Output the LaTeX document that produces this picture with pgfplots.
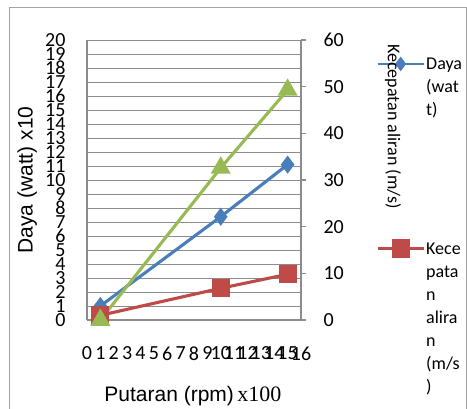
\documentclass[border=0pt]{standalone}
\usepackage{pgfplots}
\pgfplotsset{compat=1.18}
\usepackage{fontspec}
\setmainfont{Liberation Sans}
\newfontfamily\seriffont{Liberation Serif}
\newfontfamily\calfont{Carlito}
\definecolor{cblue}{HTML}{4A7EBB}
\definecolor{cred}{HTML}{BE4B48}
\definecolor{cgreen}{HTML}{98B954}
\definecolor{cgrid}{HTML}{8C8C8C}
\newcommand{\legtab}[1]{\begin{tabular}[t]{@{}l@{}}#1\end{tabular}}
\begin{document}
\begin{tikzpicture}[x=1pt,y=1pt]
\useasboundingbox (0,0) rectangle (467,409);
\draw[cgrid!80, line width=1pt] (9,-20) -- (9,401) -- (466,401) -- (466,-20);
\pgfplotsset{
  common/.style={
    scale only axis, width=214pt, height=280pt,
    at={(87pt,89pt)}, anchor=south west,
    xmin=0, xmax=16,
    axis line style={cgrid, line width=1.2pt},
    /pgf/number format/assume math mode=true,
    tick label style={font=\calfont\fontsize{20}{22}\selectfont},
  },
}
\begin{axis}[common,
  ymin=0, ymax=20,
  axis y line*=left, axis x line*=bottom,
  xtick={0,...,16}, ytick={0,...,20},
  major tick length=0pt,
  ymajorgrids, grid style={cgrid, line width=0.9pt},
  xticklabel style={anchor=north, yshift=-23pt},
  yticklabel style={anchor=east, xshift=-18pt},
  xlabel={Putaran (rpm)\,{\seriffont\fontsize{22}{24}\selectfont x100}},
  xlabel style={font=\fontsize{21}{24}\selectfont, at={(axis description cs:0.495,-0.271)}, anchor=center},
  ylabel={Daya (watt) x10},
  ylabel style={font=\fontsize{21}{24}\selectfont, at={(axis description cs:-0.28,0.5)}, anchor=center},
]
\addplot[cblue, line width=3.1pt, mark=diamond*, mark size=6.5pt, mark options={solid}]
  coordinates {(1,1) (10,7.38) (15,11.1)};
\end{axis}
\begin{axis}[common,
  ymin=0, ymax=60,
  axis y line*=right, axis x line=none,
  ytick={0,10,...,60},
  tick align=outside, major tick length=5pt,
  ytick style={cgrid, line width=1.2pt},
  yticklabel style={anchor=west, xshift=14pt},
  legend style={draw=none, fill=none, at={(axis description cs:1.336,0.962)}, anchor=north west,
    font=\calfont\fontsize{18}{23}\selectfont, row sep=165pt,
    nodes={anchor=base west, inner sep=1pt}},
  legend cell align=left,
  legend image code/.code={\draw[mark repeat=2, mark phase=2, #1] plot coordinates {(0pt,6pt) (23pt,6pt) (46pt,6pt)};},
]
\addlegendimage{cblue, line width=2.8pt, mark=diamond*, mark size=5pt}
\addlegendentry{\legtab{Daya\\(wat\\t)}}
\addplot[cred, line width=3.1pt, mark=square*, mark size=7.5pt]
  coordinates {(1,1) (10,6.8) (15,9.8)};
\addlegendentry{\legtab{Kece\\pata\\n\\alira\\n\\(m/s\\)}}
\addplot[cgreen, line width=3.1pt, mark=triangle*, mark size=8.5pt, forget plot]
  coordinates {(1,0) (10,32.6) (15,49.3)};
\end{axis}
\node[rotate=-90, font=\calfont\fontsize{18}{20}\selectfont] at (393,282.5) {Kecepatan aliran (m/s)};
\end{tikzpicture}
\end{document}
